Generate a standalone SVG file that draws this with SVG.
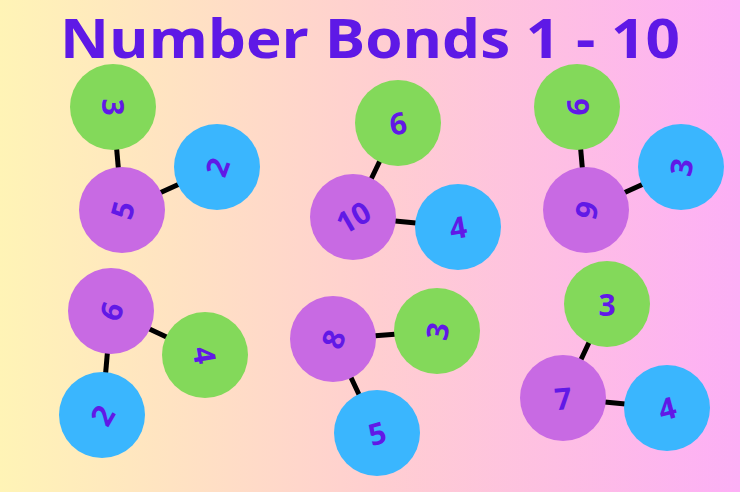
<svg xmlns="http://www.w3.org/2000/svg" width="740" height="492" viewBox="0 0 740 492">
<defs>
<linearGradient id="bg" x1="0" y1="0" x2="1" y2="0">
<stop offset="0" stop-color="#fff4b6"/><stop offset="0.5" stop-color="#ffcfd0"/><stop offset="1" stop-color="#fdaff6"/>
</linearGradient>
<style>
.g{fill:#83d95a}.b{fill:#3ab6fe}.p{fill:#c86ae3}
.n{font-family:"Open Sans","DejaVu Sans",sans-serif;font-weight:bold;font-size:30px;fill:#6119e6;text-anchor:middle;dominant-baseline:central}
.t{font-family:"Open Sans","DejaVu Sans",sans-serif;font-weight:bold;font-size:54px;fill:#5e19e6;text-anchor:middle}
line{stroke:#000;stroke-width:5}
</style>
</defs>
<rect width="740" height="492" fill="url(#bg)"/>
<text class="t" x="370" y="58" textLength="620" lengthAdjust="spacingAndGlyphs">Number Bonds 1 - 10</text>
<g id="connectors">
<line x1="113" y1="107" x2="122" y2="210"/><line x1="217" y1="167" x2="122" y2="210"/>
<line x1="398" y1="123" x2="353" y2="217"/><line x1="458" y1="227" x2="353" y2="217"/>
<line x1="577" y1="107" x2="586" y2="210"/><line x1="681" y1="167" x2="586" y2="210"/>
<line x1="111" y1="311" x2="205" y2="355"/><line x1="111" y1="311" x2="102" y2="415"/>
<line x1="333" y1="339" x2="437" y2="331"/><line x1="333" y1="339" x2="377" y2="433"/>
<line x1="607" y1="304" x2="563" y2="398"/><line x1="667" y1="408" x2="563" y2="398"/>
</g>
<g id="n1"><circle class="g" cx="113" cy="107" r="43"/><text class="n" transform="translate(113,107) rotate(90)">3</text></g>
<g id="n2"><circle class="b" cx="217" cy="167" r="43"/><text class="n" transform="translate(217,167) rotate(-70)">2</text></g>
<g id="n3"><circle class="p" cx="122" cy="210" r="43"/><text class="n" transform="translate(122,210) rotate(-75)">5</text></g>
<g id="n4"><circle class="g" cx="398" cy="123" r="43"/><text class="n" transform="translate(398,123) rotate(-10)">6</text></g>
<g id="n5"><circle class="p" cx="353" cy="217" r="43"/><text class="n" transform="translate(353,217) rotate(-30)">10</text></g>
<g id="n6"><circle class="b" cx="458" cy="227" r="43"/><text class="n" transform="translate(458,227) rotate(-10)">4</text></g>
<g id="n7"><circle class="g" cx="577" cy="107" r="43"/><text class="n" transform="translate(577,107) rotate(-90)">6</text></g>
<g id="n8"><circle class="b" cx="681" cy="167" r="43"/><text class="n" transform="translate(681,167) rotate(-80)">3</text></g>
<g id="n9"><circle class="p" cx="586" cy="210" r="43"/><text class="n" transform="translate(586,210) rotate(-75)">9</text></g>
<g id="n10"><circle class="p" cx="111" cy="311" r="43"/><text class="n" transform="translate(111,311) rotate(-70)">6</text></g>
<g id="n11"><circle class="g" cx="205" cy="355" r="43"/><text class="n" transform="translate(205,355) rotate(80)">4</text></g>
<g id="n12"><circle class="b" cx="102" cy="415" r="43"/><text class="n" transform="translate(102,415) rotate(-60)">2</text></g>
<g id="n13"><circle class="p" cx="333" cy="339" r="43"/><text class="n" transform="translate(333,339) rotate(-70)">8</text></g>
<g id="n14"><circle class="g" cx="437" cy="331" r="43"/><text class="n" transform="translate(437,331) rotate(-80)">3</text></g>
<g id="n15"><circle class="b" cx="377" cy="433" r="43"/><text class="n" transform="translate(377,433) rotate(-15)">5</text></g>
<g id="n16"><circle class="g" cx="607" cy="304" r="43"/><text class="n" transform="translate(607,304)">3</text></g>
<g id="n17"><circle class="p" cx="563" cy="398" r="43"/><text class="n" transform="translate(563,398) rotate(-5)">7</text></g>
<g id="n18"><circle class="b" cx="667" cy="408" r="43"/><text class="n" transform="translate(667,408) rotate(-15)">4</text></g>
</svg>
